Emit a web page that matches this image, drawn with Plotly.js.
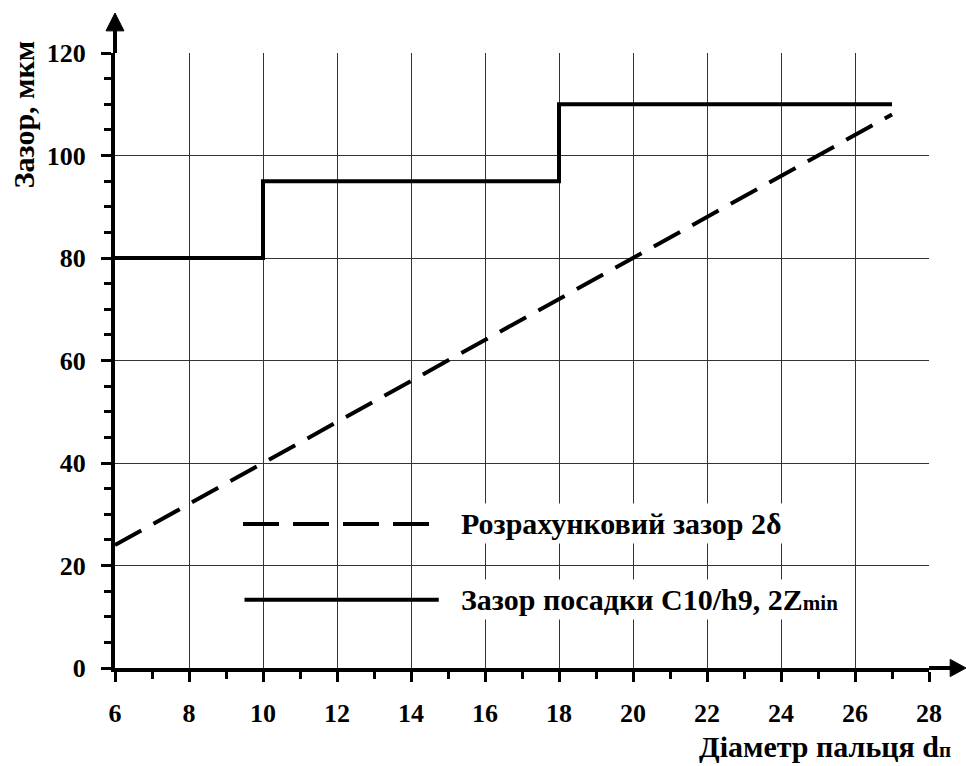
<!DOCTYPE html>
<html>
<head>
<meta charset="utf-8">
<script src="https://cdn.plot.ly/plotly-3.0.1.min.js"></script>
<style>html,body{margin:0;padding:0;background:#fff;}#chart{width:966px;height:766px;}</style>
</head>
<body>
<div id="chart"></div>
<script>
// ---- data ----
var diamCalc = [6, 8, 10, 12, 14, 16, 18, 20, 22, 24, 26, 27];
var gapCalc  = [24, 32, 40, 48, 56, 64, 72, 80, 88, 96, 104, 108];
var diamFit  = [6, 10, 18, 27];
var gapFit   = [80, 95, 110, 110];
var xTicks = [6, 8, 10, 12, 14, 16, 18, 20, 22, 24, 26, 28];
var yTicks = [0, 20, 40, 60, 80, 100, 120];
var nameCalc = 'Розрахунковий зазор 2δ';
var nameFit  = 'Зазор посадки С10/h9, 2Z<span style="font-size:21px">min</span>';
var xTitle = 'Діаметр пальця d<span style="font-size:21px">п</span>';
var yTitle = 'Зазор, мкм';

var FONT = 'Liberation Serif, Times New Roman, serif';

var traces = [
  {x: diamCalc, y: gapCalc, mode: 'lines', name: nameCalc,
   line: {color: '#000', width: 4, dash: '30px,14px'}, hoverinfo: 'skip'},
  {x: diamFit, y: gapFit, mode: 'lines', name: nameFit,
   line: {color: '#000', width: 4, shape: 'hv'}, hoverinfo: 'skip'}
];

var axisCommon = {
  showline: true, linecolor: '#000', linewidth: 4,
  showgrid: true, gridcolor: '#333', gridwidth: 1,
  zeroline: false, ticks: 'outside', ticklen: 10, tickwidth: 3, tickcolor: '#000',
  tickfont: {family: FONT, size: 26, color: '#000', weight: 'bold'},
  fixedrange: true
};

var layout = {
  width: 966, height: 766,
  margin: {l: 115, r: 37, t: 53, b: 98},
  paper_bgcolor: '#fff', plot_bgcolor: '#fff',
  showlegend: false,
  font: {family: FONT, color: '#000'},
  xaxis: Object.assign({}, axisCommon, {
    range: [6, 28], tickvals: xTicks, ticktext: xTicks.map(String),
    ticklabelstandoff: 9,
    minor: {dtick: 1, tick0: 6, ticks: 'outside', ticklen: 7, tickwidth: 3, tickcolor: '#000', showgrid: false}
  }),
  yaxis: Object.assign({}, axisCommon, {
    range: [0, 120], tickvals: yTicks, ticktext: yTicks.map(String),
    ticklabelstandoff: 10,
    minor: {dtick: 5, tick0: 0, ticks: 'outside', ticklen: 7, tickwidth: 3, tickcolor: '#000', showgrid: false}
  }),
  shapes: [
    // axis extensions with arrows
    {type: 'line', xref: 'paper', yref: 'paper', x0: 0, x1: 0, y0: 1, y1: 1.04, line: {color: '#000', width: 4}},
    {type: 'path', xref: 'paper', yref: 'paper', path: 'M -0.011 1.036 L 0 1.065 L 0.011 1.036 Z', fillcolor: '#000', line: {color: '#000', width: 1}},
    {type: 'line', xref: 'paper', yref: 'paper', x0: 1, x1: 1.03, y0: 0, y1: 0, line: {color: '#000', width: 4}},
    {type: 'path', xref: 'paper', yref: 'paper', path: 'M 1.026 -0.014 L 1.0455 0 L 1.026 0.014 Z', fillcolor: '#000', line: {color: '#000', width: 1}},
    // legend samples
    {type: 'line', xref: 'x', yref: 'y', x0: 9.46, x1: 14.6, y0: 28.1, y1: 28.1, line: {color: '#000', width: 4, dash: '36px,14px'}},
    {type: 'line', xref: 'x', yref: 'y', x0: 9.5, x1: 14.75, y0: 13.3, y1: 13.3, line: {color: '#000', width: 4}}
  ],
  annotations: [
    {xref: 'x', yref: 'y', x: 15.25, y: 28.1, xanchor: 'left', yanchor: 'middle', showarrow: false,
     text: '<b>' + nameCalc + '</b>', bgcolor: '#fff', borderpad: 3,
     font: {family: FONT, size: 30, color: '#000'}},
    {xref: 'x', yref: 'y', x: 15.25, y: 13.3, xanchor: 'left', yanchor: 'middle', showarrow: false,
     text: '<b>' + nameFit + '</b>', bgcolor: '#fff', borderpad: 3,
     font: {family: FONT, size: 30, color: '#000'}},
    {xref: 'paper', yref: 'paper', x: 1.03, y: -0.127, xanchor: 'right', yanchor: 'middle', showarrow: false,
     text: '<b>' + xTitle + '</b>', font: {family: FONT, size: 30, color: '#000'}},
    {xref: 'paper', yref: 'paper', x: -0.112, y: 0.9, xanchor: 'center', yanchor: 'middle', showarrow: false,
     textangle: -90, text: '<b>' + yTitle + '</b>', font: {family: FONT, size: 30, color: '#000'}}
  ]
};

Plotly.newPlot('chart', traces, layout, {displayModeBar: false, staticPlot: true});
</script>
</body>
</html>
